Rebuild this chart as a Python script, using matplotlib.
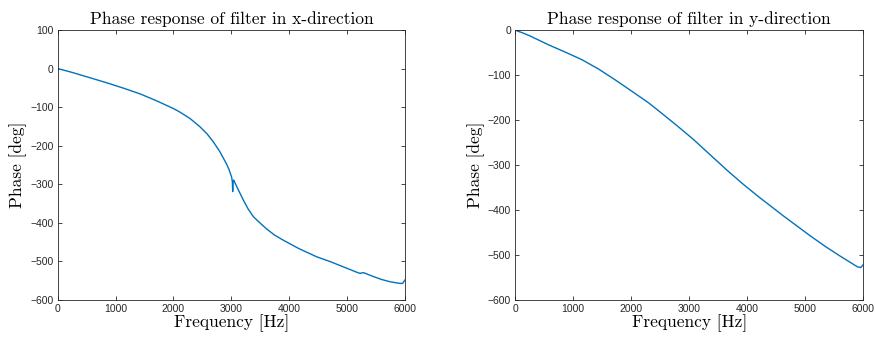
import matplotlib
matplotlib.use("Agg")
import matplotlib.pyplot as plt
import numpy as np

    #phase data
freqX = [0, 50, 100, 150, 200, 250, 563, 850, 1140, 1430, 1715, 2004, 2113, 2291, 2458,
         2579, 2689, 2800, 2919, 2960, 3006, 3018, 3023, 3030, 3040, 3100, 3207,
         3290, 3380, 3500, 3611, 3750, 3898, 4157, 4300, 4475, 4700, 5000, 5150, 5220,
         5280, 5350, 5450, 5600, 5750, 5913, 5960, 6000]
phaseX = [0, -2, -4, -6, -8, -10, -24, -37, -51, -66, -84, -104, -113, -130, -151,
          -169, -190, -215, -248, -262, -282, -295, -319, -292, -289, -308, -341,
          -364, -384, -401, -416, -432, -445, -466, -476, -488, -500, -518, -527, -531,
          -529, -533, -539, -547, -553, -557, -557, -548]

freqY = [0, 50, 100, 250, 575, 860, 1150, 1440, 1726, 2010, 2301, 2497, 2785, 3072,
         3360, 3648, 3935, 4222, 4395, 4625, 5085, 5350, 5600, 5800, 5900, 5960, 6000]
phaseY = [0, -3, -5, -13, -33, -49, -66, -87, -111, -136, -162, -182, -212, -243,
          -277, -311, -343, -373, -390, -413, -457, -481, -502, -518, -526, -528, -522]

matlabBlue = '#0072BD'
axCol = '#262626'

fig = plt.figure(figsize=(8.75, 3.42), dpi=100)
axL = fig.add_axes([57.7/875, 42/342, 347.3/875, 270/342])
axR = fig.add_axes([515.3/875, 42/342, 347.7/875, 270/342])

def styleAxes(ax, title):
    ax.set_xlim(0, 6000)
    ax.set_xticks([0, 1000, 2000, 3000, 4000, 5000, 6000])
    ax.tick_params(direction='in', top=True, right=True, length=3, width=0.6,
                   colors=axCol, labelsize=7.5, pad=3)
    for lab in ax.get_xticklabels() + ax.get_yticklabels():
        lab.set_family('Liberation Sans')
    for s in ax.spines.values():
        s.set_color(axCol)
        s.set_linewidth(0.6)
    ax.set_title(title, family='cmr10', fontsize=12.5, pad=4)
    ax.set_xlabel('Frequency [Hz]', family='cmr10', fontsize=12.5, labelpad=0)
    ax.set_ylabel('Phase [deg]', family='cmr10', fontsize=12.5, labelpad=2)

axL.plot(freqX, phaseX, color=matlabBlue, lw=1.0)
axL.set_ylim(-600, 100)
axL.set_yticks(np.arange(-600, 101, 100))
styleAxes(axL, 'Phase response of filter in x-direction')

axR.plot(freqY, phaseY, color=matlabBlue, lw=1.0)
axR.set_ylim(-600, 0)
axR.set_yticks(np.arange(-600, 1, 100))
styleAxes(axR, 'Phase response of filter in y-direction')

fig.savefig('out.png', dpi=100)
